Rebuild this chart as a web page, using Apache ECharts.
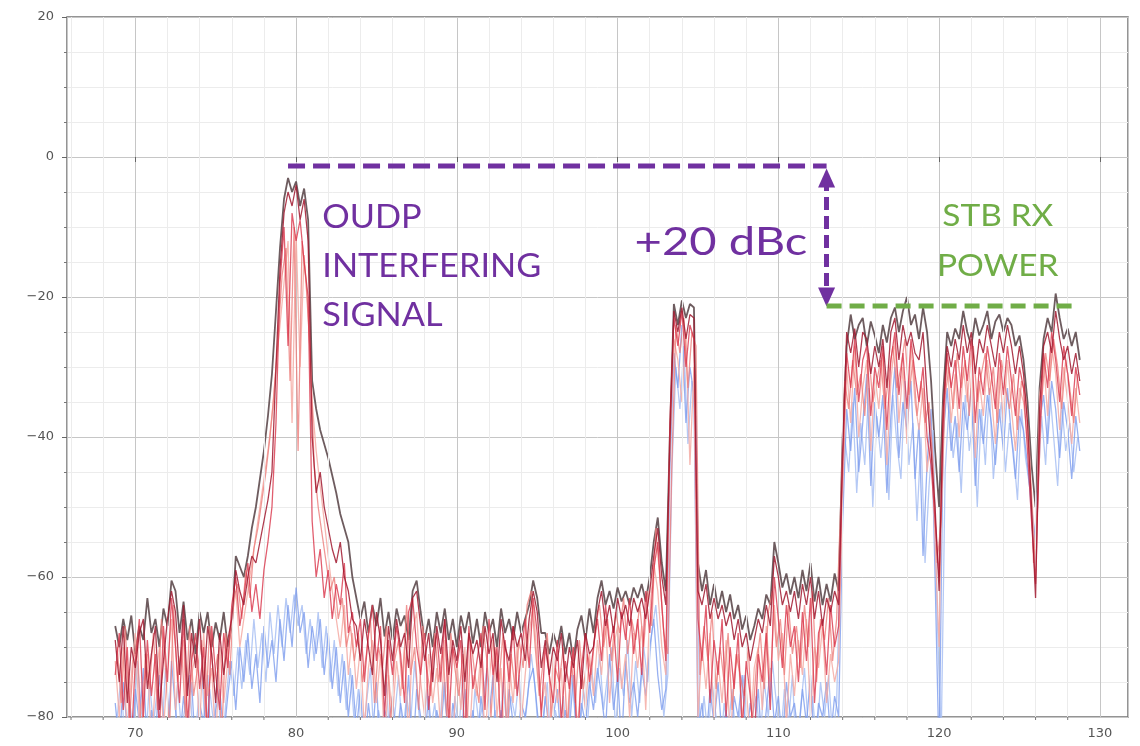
<!DOCTYPE html>
<html>
<head>
<meta charset="utf-8">
<script src="https://cdn.jsdelivr.net/npm/echarts@6/dist/echarts.min.js"></script>
<style>
html,body{margin:0;padding:0;background:#ffffff;}
#chart{width:1140px;height:746px;}
</style>
</head>
<body>
<div id="chart"></div>
<script>
// Frequency sampling grids of the analyser (MHz)
const FREQ_START_A = 68.75;   // grid A: 68.75 .. 128.75
const FREQ_START_B = 68.875;  // grid B: 68.875 .. 128.625
const FREQ_STEP = 0.25;
const FREQ_COUNT_A = 241;
const FREQ_COUNT_B = 240;

// Max-hold envelope trace (dark grey-brown), grid A
const traceMax = [
  -67,-70,-66,-69,-65.5,-71,-67,-69,-63,-68,
  -66,-70,-64.5,-67,-60.5,-62,-68,-63.5,-69,-66,
  -71,-65,-68,-65,-70,-66.5,-69,-65,-70,-67,
  -57,-58.5,-60,-57,-53,-50,-46,-42,-37,-31,
  -22,-13,-6,-3,-5,-3.5,-7,-4.5,-9,-32,
  -36,-39,-41,-43,-45.5,-48,-51,-53,-55,-60,
  -63,-66,-63.5,-68,-64,-67,-63,-68.5,-65,-69,
  -64.5,-67,-65.5,-69,-62,-60.5,-65,-69,-66,-70,
  -65,-68,-64.5,-69,-66,-70,-65.5,-68,-65,-69.5,
  -66,-70,-65,-68,-66,-70,-64.5,-68,-66,-69,
  -65,-68,-66,-64,-60.5,-63,-68,-68,-71,-68,
  -70,-67,-71,-68,-72,-67.5,-65.5,-69,-64.5,-68,
  -63,-60.5,-64,-62,-64.5,-61.5,-63.5,-62,-64,-61.5,
  -63,-61,-63.5,-60,-55,-51.5,-58,-62,-40,-21,
  -24,-20.5,-23,-21,-21.5,-58,-62,-59,-64,-61,
  -64.5,-62,-65,-62.5,-66,-64,-67.5,-65.5,-69,-67,
  -64.5,-66,-62.5,-64,-55,-58,-61.5,-59.5,-62.5,-60,
  -63,-59,-62,-58,-63.5,-60,-64,-61,-63.5,-59.5,
  -62,-40,-27,-22.5,-26,-24,-23,-27,-23.5,-25.5,
  -28,-24,-26.5,-23,-21.5,-25,-22,-20,-24,-22.5,
  -26,-21.5,-25,-32,-42,-50,-34,-25,-27,-24.5,
  -26,-22,-25,-27,-23,-25.5,-24,-22,-26,-23.5,
  -22.5,-25,-23,-24,-27,-25.5,-29,-35,-44,-50,
  -33,-26,-23,-25,-19.5,-23,-26,-24.5,-27,-25,-29
];

// Low-level trace (blue), grid A
const traceBlue = [
  -78,-84,-75,-82,-86,-76,-81,-73,-85,-79,
  -83,-74,-80,-86,-72,-79,-84,-77,-82,-75,
  -85,-78,-81,-74,-86,-79,-76,-83,-77,-72,
  -79,-70,-75,-68,-76,-71,-78,-67,-73,-69,
  -75,-66,-72,-64,-70,-61.5,-68,-65,-73,-67,
  -71,-66,-74,-68,-76,-70,-78,-72,-80,-74,
  -82,-76,-85,-78,-83,-75,-86,-79,-81,-77,
  -84,-78,-82,-74,-86,-76,-80,-83,-77,-85,
  -79,-82,-75,-86,-78,-81,-84,-76,-83,-79,
  -85,-77,-82,-80,-74,-86,-79,-83,-76,-81,
  -84,-78,-80,-75,-73,-79,-85,-77,-82,-80,
  -76,-84,-79,-82,-74,-86,-78,-81,-75,-79,
  -73,-77,-82,-71,-79,-74,-84,-72,-78,-75,
  -80,-73,-77,-70,-66,-74,-79,-76,-45,-28,
  -33,-24,-38,-30,-34,-82,-78,-84,-76,-81,
  -75,-83,-79,-86,-77,-80,-74,-84,-78,-82,
  -76,-85,-79,-73,-81,-77,-84,-75,-80,-78,
  -83,-76,-81,-74,-85,-78,-80,-75,-83,-77,
  -80,-52,-36,-42,-33,-45,-38,-31,-47,-35,
  -40,-34,-48,-37,-30,-43,-35,-39,-32,-46,
  -38,-57,-44,-36,-60,-86,-40,-33,-42,-37,
  -45,-35,-39,-33,-47,-36,-41,-34,-38,-44,
  -36,-42,-33,-40,-46,-37,-39,-44,-50,-55,
  -38,-34,-41,-32,-36,-43,-35,-39,-46,-37,-42
];

// Lowest-level trace (light blue), grid B
const traceLightBlue = [
  -80,-74,-86,-77,-83,-72,-79,-85,-75,-81,
  -76,-84,-73,-80,-86,-75,-82,-78,-74,-85,
  -79,-73,-83,-76,-81,-74,-86,-78,-72,-77,
  -70,-76,-69,-74,-66,-73,-68,-75,-65,-71,
  -64,-70,-63,-68,-62.5,-67,-64,-71,-66,-72,
  -65,-73,-67,-75,-69,-77,-71,-79,-73,-81,
  -76,-84,-78,-73,-85,-79,-82,-75,-86,-80,
  -74,-83,-77,-81,-72,-79,-85,-76,-82,-78,
  -84,-75,-80,-86,-77,-82,-74,-79,-85,-76,
  -81,-78,-73,-84,-79,-86,-75,-82,-77,-80,
  -74,-83,-78,-71,-76,-84,-80,-75,-86,-79,
  -82,-77,-85,-74,-80,-83,-76,-81,-73,-78,
  -71,-79,-74,-70,-82,-73,-77,-69,-80,-72,
  -78,-70,-75,-68,-64,-71,-80,-74,-45,-30,
  -36,-27,-41,-32,-38,-84,-77,-83,-75,-80,
  -86,-78,-82,-76,-84,-79,-74,-85,-80,-77,
  -83,-75,-80,-72,-78,-84,-76,-81,-74,-86,
  -79,-73,-82,-77,-84,-75,-80,-74,-83,-78,
  -55,-40,-45,-35,-48,-38,-44,-33,-50,-37,
  -43,-36,-49,-34,-41,-46,-32,-44,-38,-52,
  -40,-58,-47,-39,-65,-84,-45,-35,-43,-38,
  -48,-34,-42,-37,-50,-36,-44,-33,-46,-39,
  -35,-45,-38,-42,-49,-36,-43,-47,-56,-48,
  -37,-44,-33,-40,-47,-35,-42,-38,-45,-40
];

// Medium-low trace (light salmon), grid A
const tracePink = [
  -72,-80,-70,-83,-74,-68,-81,-76,-71,-84,
  -75,-70,-82,-73,-66,-79,-72,-69,-85,-74,
  -71,-82,-68,-77,-73,-84,-70,-78,-72,-66,
  -62,-70,-66,-62,-58,-54,-50,-46,-42,-37,
  -30,-24,-18,-12,-38,-11,-30,-14,-22,-35,
  -42,-47,-52,-57,-62,-66,-70,-64,-74,-68,
  -76,-70,-82,-73,-69,-78,-71,-84,-74,-80,
  -72,-77,-70,-83,-68,-65,-75,-80,-71,-78,
  -73,-82,-69,-76,-84,-72,-79,-70,-85,-74,
  -77,-71,-83,-75,-69,-80,-73,-86,-72,-78,
  -70,-81,-74,-68,-64,-72,-79,-75,-83,-71,
  -78,-73,-85,-76,-70,-82,-74,-79,-71,-77,
  -69,-74,-66,-78,-70,-67,-76,-71,-80,-68,
  -73,-67,-79,-65,-58,-62,-70,-74,-42,-26,
  -29,-35,-25,-44,-30,-80,-70,-76,-68,-81,
  -72,-78,-69,-84,-74,-71,-80,-76,-83,-73,
  -70,-79,-67,-75,-64,-72,-68,-81,-71,-77,
  -69,-74,-66,-80,-70,-73,-67,-78,-71,-75,
  -72,-48,-30,-38,-27,-40,-33,-29,-42,-31,
  -36,-28,-44,-32,-26,-38,-30,-41,-27,-35,
  -39,-33,-45,-40,-55,-70,-36,-29,-38,-31,
  -40,-30,-35,-28,-43,-32,-37,-29,-34,-41,
  -30,-38,-29,-36,-42,-33,-35,-40,-48,-58,
  -34,-29,-37,-27,-31,-39,-30,-35,-41,-33,-38
];

// Medium trace (salmon red), grid B
const traceSalmon = [
  -70,-78,-67,-81,-72,-69,-84,-71,-76,-68,
  -79,-66,-73,-82,-64,-75,-70,-80,-67,-77,
  -73,-69,-80,-67,-75,-71,-83,-68,-74,-63,
  -61,-66,-59,-63,-56,-53,-49,-45,-40,-34,
  -26,-17,-13,-32,-10,-42,-12,-18,-28,-44,
  -50,-54,-58,-62,-60,-66,-63,-70,-67,-72,
  -68,-75,-71,-66,-78,-70,-73,-67,-81,-72,
  -69,-76,-64,-74,-70,-79,-67,-73,-77,-68,
  -75,-70,-80,-68,-73,-77,-71,-82,-69,-74,
  -78,-67,-72,-80,-70,-75,-68,-84,-71,-76,
  -69,-73,-64,-62,-70,-77,-72,-68,-80,-73,
  -75,-70,-82,-72,-78,-69,-76,-71,-74,-67,
  -64,-70,-66,-72,-65,-68,-63,-71,-66,-69,
  -64,-70,-62,-67,-53,-60,-68,-71,-44,-24,
  -28,-23,-33,-25,-27,-74,-67,-72,-65,-76,
  -70,-75,-68,-79,-71,-74,-77,-70,-81,-73,
  -68,-76,-65,-62,-70,-66,-74,-64,-71,-67,
  -73,-64,-70,-62,-75,-66,-69,-63,-72,-66,
  -50,-32,-36,-29,-34,-31,-37,-28,-35,-32,
  -29,-36,-31,-27,-33,-30,-26,-34,-29,-37,
  -32,-38,-35,-44,-58,-52,-34,-30,-36,-28,
  -33,-29,-37,-27,-35,-31,-28,-34,-30,-38,
  -29,-33,-36,-31,-39,-32,-34,-42,-58,-50,
  -35,-28,-32,-26,-30,-36,-29,-33,-38,-31
];

// Medium-high trace (red), grid A
const traceRed = [
  -74,-68,-79,-70,-84,-72,-66,-80,-69,-77,
  -71,-82,-67,-75,-63,-70,-78,-66,-81,-72,
  -68,-76,-70,-83,-67,-74,-79,-68,-73,-64,
  -60,-67,-63,-58,-65,-61,-66,-59,-55,-50,
  -38,-18,-10,-27,-8,-12,-9,-15,-20,-52,
  -60,-56,-63,-59,-66,-61,-64,-58,-68,-65,
  -70,-66,-75,-68,-64,-72,-67,-80,-69,-74,
  -67,-71,-78,-65,-63,-70,-74,-68,-79,-71,
  -68,-75,-66,-81,-70,-73,-69,-84,-67,-76,
  -72,-68,-79,-66,-74,-70,-83,-69,-75,-67,
  -77,-71,-66,-73,-63,-68,-80,-70,-74,-78,
  -69,-81,-72,-76,-70,-85,-73,-68,-75,-70,
  -66,-72,-64,-70,-67,-75,-65,-69,-63,-71,
  -66,-74,-62,-68,-59,-55,-64,-72,-38,-23,
  -27,-22,-30,-24,-26,-66,-72,-64,-78,-69,
  -74,-66,-80,-70,-76,-68,-82,-72,-77,-84,
  -71,-75,-68,-79,-60,-66,-73,-64,-70,-67,
  -75,-65,-72,-63,-78,-68,-66,-74,-64,-70,
  -67,-44,-28,-33,-26,-35,-29,-27,-37,-30,
  -33,-27,-39,-29,-25,-34,-28,-36,-26,-31,
  -35,-30,-40,-44,-52,-60,-38,-28,-33,-29,
  -36,-27,-32,-26,-38,-30,-34,-27,-31,-36,
  -28,-34,-27,-32,-37,-30,-33,-42,-52,-61,
  -40,-28,-33,-25,-29,-35,-27,-31,-37,-30,-34
];

// Highest-level trace (dark red), grid A
const traceDarkRed = [
  -69,-75,-67,-78,-70,-73,-68,-66,-76,-71,
  -67,-79,-72,-66,-62,-65,-74,-64,-77,-68,
  -73,-66,-76,-67,-71,-78,-68,-74,-69,-66,
  -59,-62,-64,-60,-57,-58,-55,-52,-49,-45,
  -30,-16,-8,-5,-7,-4,-9,-6,-12,-40,
  -48,-45,-50,-53,-56,-58,-55,-60,-62,-66,
  -67,-72,-66,-70,-74,-65,-69,-77,-67,-72,
  -66,-70,-68,-73,-63,-62,-67,-72,-68,-75,
  -67,-71,-66,-74,-69,-72,-67,-75,-68,-71,
  -69,-73,-67,-71,-68,-75,-66,-70,-72,-67,
  -70,-68,-72,-66,-62,-65,-73,-69,-74,-70,
  -72,-68,-75,-70,-73,-69,-76,-68,-71,-70,
  -65,-62,-67,-64,-68,-63,-66,-64,-67,-63,
  -65,-63,-66,-62,-57,-53,-60,-64,-41,-22,
  -25,-21.5,-26,-22.5,-23,-62,-64,-61,-66,-63,
  -66,-64,-67,-65,-69,-66,-70,-68,-72,-69,
  -66,-68,-64,-67,-57,-60,-64,-62,-65,-62,
  -66,-61,-64,-60,-66,-62,-67,-63,-65,-62,
  -64,-42,-25,-28,-24.5,-30,-25,-26,-31,-27,
  -30,-26,-33,-25,-23,-29,-24,-27,-25,-28,
  -29,-25,-34,-42,-50,-62,-36,-27,-30,-26,
  -29,-24,-28,-25,-31,-26,-28,-24,-27,-30,
  -25,-28,-24,-27,-31,-27,-31,-38,-50,-63,
  -36,-27,-25,-28,-22,-26,-29,-27,-31,-28,-32
];

// Axis ranges and ticks
const X_MIN = 65.75, X_MAX = 131.75;
const Y_MIN = -80, Y_MAX = 20, Y_INTERVAL = 20;
const xMinorTicks = [66,68,72,74,76,78,82,84,86,88,92,94,96,98,102,104,106,108,112,114,116,118,122,124,126,128];

// Annotation levels (dBmV) and spans (MHz)
const interfererLevel = -1.3;
const stbLevel = -21.3;
const interfererSpan = [79.5, 113.0];
const stbSpan = [113.0, 128.6];
const arrowX = 113.0;
const arrowEnds = [-3.0, -20.0];

// Annotation texts
const oudpLines = ['OUDP', 'INTERFERING', 'SIGNAL'];
const dbcText = '+20 dBc';
const stbLines = ['STB RX', 'POWER'];

function makeGrid(start, count) {
  const g = [];
  for (let i = 0; i < count; i++) g.push(Math.round((start + i * FREQ_STEP) * 1000) / 1000);
  return g;
}
const freqsA = makeGrid(FREQ_START_A, FREQ_COUNT_A);
const freqsB = makeGrid(FREQ_START_B, FREQ_COUNT_B);
const pairs = (grid, arr) => arr.map((v, i) => [grid[i], v]);

const PURPLE = '#7030A0';
const GREEN = '#70AD47';

function traceSeries(name, grid, arr, color, width, opacity, z) {
  return {
    name: name, type: 'line', data: pairs(grid, arr), z: z,
    symbol: 'none', showSymbol: false, silent: true, clip: true,
    lineStyle: { color: color, width: width, opacity: opacity },
    emphasis: { disabled: true }, animation: false
  };
}

const chart = echarts.init(document.getElementById('chart'), null, { renderer: 'canvas' });

const option = {
  animation: false,
  backgroundColor: '#ffffff',
  grid: {
    left: 67, right: 12, top: 17, bottom: 29,
    outerBoundsMode: 'none',
    show: true, borderColor: '#727272', borderWidth: 1.5, backgroundColor: 'transparent'
  },
  xAxis: {
    type: 'value', min: X_MIN, max: X_MAX, splitNumber: 6,
    axisLine: { show: false },
    axisTick: { show: true, inside: false, length: 5, lineStyle: { color: '#666' } },
    axisLabel: {
      showMinLabel: false, showMaxLabel: false, margin: 10,
      color: '#555', fontSize: 13, fontFamily: 'DejaVu Sans'
    },
    splitLine: { show: true, lineStyle: { color: '#c6c6c6', width: 1 } }
  },
  yAxis: {
    type: 'value', min: Y_MIN, max: Y_MAX, interval: Y_INTERVAL,
    axisLine: { show: false },
    axisTick: { show: true, inside: false, length: 5, lineStyle: { color: '#666' } },
    minorTick: { show: true, splitNumber: 4, length: 3, lineStyle: { color: '#777' } },
    axisLabel: {
      margin: 13, color: '#555', fontSize: 13, fontFamily: 'DejaVu Sans',
      formatter: v => (v < 0 ? '\u2212' + Math.abs(v) : String(v))
    },
    splitLine: { show: true, lineStyle: { color: '#c6c6c6', width: 1 } },
    minorSplitLine: { show: true, lineStyle: { color: '#ececec', width: 1 } }
  },
  series: [
    {
      name: 'minor-grid', type: 'line', data: [], z: 1, silent: true,
      markLine: {
        silent: true, symbol: 'none', animation: false,
        label: { show: false },
        lineStyle: { color: '#ececec', width: 1, type: 'solid' },
        emphasis: { disabled: true },
        data: xMinorTicks.map(v => ({ xAxis: v }))
      }
    },
    traceSeries('max', freqsA, traceMax, '#5e4a4e', 1.8, 0.9, 2),
    traceSeries('lightblue', freqsB, traceLightBlue, '#a8bff3', 1.3, 0.85, 3),
    traceSeries('blue', freqsA, traceBlue, '#7d9cee', 1.3, 0.8, 3),
    traceSeries('pink', freqsA, tracePink, '#f4aaa3', 1.3, 0.85, 4),
    traceSeries('salmon', freqsB, traceSalmon, '#ec7d7b', 1.3, 0.8, 4),
    traceSeries('red', freqsA, traceRed, '#d9344a', 1.3, 0.8, 5),
    traceSeries('darkred', freqsA, traceDarkRed, '#a1192f', 1.3, 0.85, 6),
    {
      name: 'interferer-level', type: 'line', z: 10, silent: true, symbol: 'none',
      data: [[interfererSpan[0], interfererLevel], [interfererSpan[1], interfererLevel]],
      lineStyle: { color: PURPLE, width: 5, type: [17, 8] }, animation: false
    },
    {
      name: 'stb-level', type: 'line', z: 10, silent: true, symbol: 'none',
      data: [[stbSpan[0], stbLevel], [stbSpan[1], stbLevel]],
      lineStyle: { color: GREEN, width: 5, type: [15, 8] }, animation: false
    },
    {
      name: 'dbc-arrow', type: 'line', data: [], z: 11, silent: true,
      markLine: {
        silent: true, animation: false,
        symbol: ['triangle', 'triangle'], symbolSize: [17, 19],
        label: { show: false },
        emphasis: { disabled: true },
        lineStyle: { color: PURPLE, width: 5, type: [13, 6], opacity: 1 },
        itemStyle: { color: PURPLE },
        data: [[{ coord: [arrowX, arrowEnds[0]] }, { coord: [arrowX, arrowEnds[1]] }]]
      }
    }
  ]
};

chart.setOption(option);

// Text annotations and minor x ticks positioned through the chart's scales
const px = (x, y) => chart.convertToPixel({ gridIndex: 0 }, [x, y]);
const graphics = [];
const oudpAnchor = px(81.63, -8.68);
oudpLines.forEach((t, k) => {
  graphics.push({
    type: 'text', x: oudpAnchor[0], y: oudpAnchor[1] + k * 48.7, scaleX: 1.04, silent: true, z: 20,
    style: { text: t, fill: PURPLE, font: '33px Lato', textAlign: 'left', textVerticalAlign: 'middle' }
  });
});
const dbcAnchor = px(111.8, -12.3);
graphics.push({
  type: 'text', x: dbcAnchor[0], y: dbcAnchor[1], scaleX: 1.24, silent: true, z: 20,
  style: { text: dbcText, fill: PURPLE, font: '38px Lato', textAlign: 'right', textVerticalAlign: 'middle' }
});
const stbAnchor = px(123.65, -8.4);
stbLines.forEach((t, k) => {
  graphics.push({
    type: 'text', x: stbAnchor[0], y: stbAnchor[1] + k * 50, scaleX: 1.08, silent: true, z: 20,
    style: { text: t, fill: GREEN, font: '31px Lato', textAlign: 'center', textVerticalAlign: 'middle' }
  });
});
const yBottom = px(X_MIN, Y_MIN)[1];
xMinorTicks.forEach(v => {
  const x = px(v, Y_MIN)[0];
  graphics.push({
    type: 'line', silent: true, z: 5,
    shape: { x1: x, y1: yBottom, x2: x, y2: yBottom + 3 },
    style: { stroke: '#777', lineWidth: 1 }
  });
});
chart.setOption({ graphic: graphics });
</script>
</body>
</html>
